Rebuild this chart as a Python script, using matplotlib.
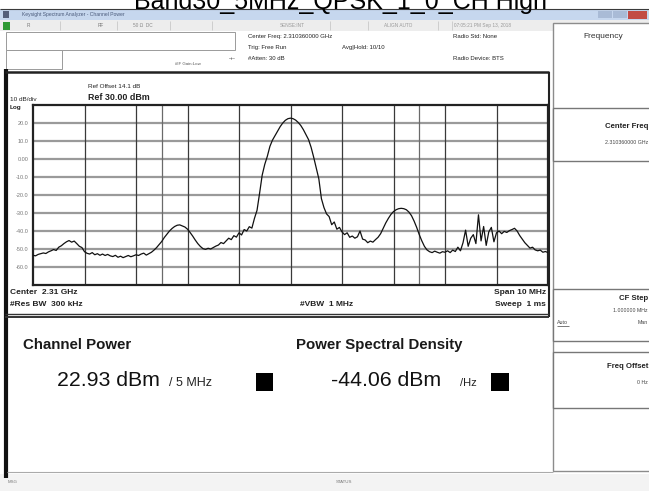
import numpy as np
import matplotlib
matplotlib.use("Agg")
import matplotlib.pyplot as plt
from matplotlib import font_manager
from matplotlib.patches import Rectangle

# ---------------- data ----------------
title = "Band30_5MHz_QPSK_1_0_CH High"
ref_level_dbm = 30.0
bottom_level_dbm = -70.0
freq_start_mhz = -5.0
freq_stop_mhz = 5.0
x_div_mhz = [-4, -3, -2, -1, 0, 1, 2, 3, 4]
channel_edges_mhz = [-2.5, 2.5]
y_tick_values = [20, 10, 0, -10, -20, -30, -40, -50, -60]
y_tick_labels = ["20.0", "10.0", "0.00", "-10.0", "-20.0", "-30.0", "-40.0", "-50.0", "-60.0"]

trace_dbm = [
    -53.5, -53.8, -53.0, -52.6, -52.2, -52.5, -51.6, -51.0, -50.3, -50.8,
    -49.0, -48.2, -47.0, -46.0, -45.3, -46.2, -45.6, -47.0, -48.5, -49.2,
    -51.5, -52.4, -52.8, -52.0, -53.2, -52.6, -53.5, -52.8, -53.6, -53.0,
    -53.8, -54.2, -53.5, -54.6, -54.0, -54.8, -54.2, -53.6, -54.3, -53.8,
    -53.2, -53.6, -52.8, -52.3, -53.4, -52.6, -51.8, -50.6, -49.2, -47.5,
    -45.8, -43.6, -41.8, -40.0, -38.6, -37.5, -36.8, -36.6, -37.2, -37.8,
    -39.0, -40.8, -42.8, -45.0, -47.0, -48.6, -49.8, -50.2, -49.6, -50.0,
    -49.2, -48.4, -47.8, -46.4, -47.0, -45.5, -44.0, -44.8, -42.6, -43.4,
    -41.0, -42.2, -39.2, -40.0, -37.6, -38.4, -33.0, -28.5, -19.0, -9.0,
    -3.0, 1.5, 7.0, 10.5, 13.0, 15.5, 18.0, 20.0, 21.5, 22.4,
    22.7, 22.4, 21.6, 20.3, 18.6, 16.3, 13.6, 10.8, 6.5, 1.0,
    -5.0, -11.0, -22.0, -27.0, -30.5, -32.0, -36.5, -35.0, -39.0, -38.0,
    -40.5, -42.0, -41.0, -43.5, -42.8, -44.0, -43.2, -40.0, -44.5, -45.0,
    -46.5, -45.6, -46.2, -44.8, -43.5, -41.5, -38.5, -35.5, -33.0, -30.8,
    -29.2, -28.2, -27.6, -27.4, -27.6, -28.2, -29.5, -31.5, -34.5, -38.0,
    -42.0, -45.5, -48.5, -50.5, -51.5, -52.0, -51.2, -51.8, -52.3, -51.5,
    -51.8, -51.0, -52.0, -50.6, -51.4, -49.0, -51.0, -46.5, -39.5, -48.5,
    -44.0, -42.0, -47.0, -31.0, -45.5, -37.5, -48.0, -40.5, -38.0, -46.0,
    -41.0, -40.0, -41.5, -40.2, -40.8, -39.8, -39.2, -38.5, -40.0, -42.5,
    -44.5, -46.5, -48.0, -49.5, -49.0, -50.5, -51.0, -50.6, -51.8, -51.4,
    -52.0,
]
freq_mhz = np.linspace(freq_start_mhz, freq_stop_mhz, len(trace_dbm))

channel_power = "22.93 dBm"
channel_power_unit = "/ 5 MHz"
psd_value = "-44.06 dBm"
psd_unit = "/Hz"

# ---------------- fonts ----------------
installed = {f.name for f in font_manager.fontManager.ttflist}
if "Liberation Sans Narrow" in installed:
    UI_FONT = ["Liberation Sans Narrow", "Liberation Sans", "DejaVu Sans"]
    K = 1.2          # narrow glyphs: taller text for the same width
else:
    UI_FONT = ["Liberation Sans", "DejaVu Sans"]
    K = 1.0
plt.rcParams["font.family"] = ["Liberation Sans", "DejaVu Sans"]

# ---------------- figure ----------------
W, H = 649, 491
fig = plt.figure(figsize=(W / 100, H / 100), dpi=100)
fig.patch.set_facecolor("white")

bg = fig.add_axes([0, 0, 1, 1], zorder=0)
bg.set_xlim(0, W)
bg.set_ylim(H, 0)
bg.axis("off")

def rect(x0, y0, x1, y1, fc="none", ec="none", lw=1.0, z=1):
    bg.add_patch(Rectangle((x0, y0), x1 - x0, y1 - y0, facecolor=fc,
                           edgecolor=ec, linewidth=lw, zorder=z))

def line(x0, y0, x1, y1, c="#222222", lw=1.0, z=2):
    bg.plot([x0, x1], [y0, y1], color=c, lw=lw, zorder=z, solid_capstyle="butt")

def txt(x, y, s, size=5, ha="left", va="center", color="#222222", weight="normal", z=3):
    bg.text(x, y, s, fontsize=size * K, ha=ha, va=va, color=color, family=UI_FONT,
            fontweight=weight, zorder=z, clip_on=False)

# title (partially cut off at top, as in the screenshot)
bg.text(341, 8.5, title, fontsize=18, ha="center", va="baseline", color="black",
        family=["Liberation Sans", "DejaVu Sans"], zorder=3, clip_on=False)

# window title bar
rect(0, 9, W, 20, fc="#c6d7ee", z=1)
line(0, 9.3, W, 9.3, c="#3a3a3a", lw=0.8)
rect(3, 11, 9, 18, fc="#55607a", z=2)
txt(22, 14.6, "Keysight Spectrum Analyzer - Channel Power", size=3.6, color="#4a5a7a")
rect(598, 11, 612, 18, fc="#a9bbd6", z=2)
rect(613, 11, 627, 18, fc="#a9bbd6", z=2)
rect(628, 10.5, 647, 18.5, fc="#c24b45", z=2)

# status row
rect(0, 20, W, 30.5, fc="#ededed", z=1)
rect(3, 21.5, 10, 29.5, fc="#2f9a35", z=2)
for xs in [60, 117, 170, 212, 330, 368, 438, 452]:
    line(xs, 21, xs, 30, c="#c8c8c8", lw=0.6)
txt(27, 25.5, "R", size=3.4, color="#777777")
txt(98, 25.5, "RF", size=3.4, color="#777777")
txt(133, 25.5, "50 \u03a9  DC", size=3.4, color="#888888")
txt(280, 25.5, "SENSE:INT", size=3.4, color="#999999")
txt(384, 25.5, "ALIGN AUTO", size=3.4, color="#999999")
txt(454, 25.5, "07:05:21 PM Sep 13, 2018", size=3.4, color="#999999")

# settings area
rect(6, 31.5, 235, 49.5, fc="white", ec="#9a9a9a", lw=0.7, z=2)
rect(6, 50, 62, 69, fc="white", ec="#9a9a9a", lw=0.7, z=2)
txt(175, 63.5, "#IF Gain:Low", size=3.2, color="#555555")
txt(229, 58, "-+-", size=4, color="#333333")
txt(248, 36, "Center Freq: 2.310360000 GHz", size=4.3)
txt(248, 47, "Trig: Free Run", size=4.3)
txt(342, 47, "Avg|Hold: 10/10", size=4.3)
txt(248, 58, "#Atten: 30 dB", size=4.3)
txt(453, 36, "Radio Std: None", size=4.3)
txt(453, 58, "Radio Device: BTS", size=4.3)

# right soft-key panel
rect(553, 23, 652, 471, fc="white", ec="#8c8c8c", lw=1.0, z=1)
txt(603, 36, "Frequency", size=6.0, ha="center", color="#333333")
rect(553, 108, 652, 161, fc="white", ec="#777777", lw=1.0, z=2)
txt(648, 126, "Center Freq", size=5.6, ha="right", weight="bold")
txt(648, 142, "2.310360000 GHz", size=3.8, ha="right", color="#444444")
rect(553, 289, 652, 341, fc="white", ec="#777777", lw=1.0, z=2)
txt(648, 299, "CF Step", size=5.6, ha="right", weight="bold")
txt(648, 311, "1.000000 MHz", size=3.8, ha="right", color="#444444")
txt(557, 322, "Auto", size=3.8, color="#444444")
line(557, 325.5, 569, 325.5, c="#444444", lw=0.5)
txt(648, 322, "Man", size=3.8, ha="right", color="#444444")
rect(553, 352, 652, 408, fc="white", ec="#777777", lw=1.0, z=2)
txt(648, 366, "Freq Offset", size=5.6, ha="right", weight="bold")
txt(648, 383, "0 Hz", size=3.8, ha="right", color="#444444")

# main display frame
line(5.5, 69, 5.5, 478, c="#111111", lw=3.0)
line(5, 72, 549, 72, c="#222222", lw=1.8)
line(548.5, 72, 548.5, 317, c="#222222", lw=1.5)
line(5, 314, 549, 314, c="#333333", lw=1.0)
line(5, 317, 549, 317, c="#333333", lw=1.4)
line(7, 472, 553, 472, c="#aaaaaa", lw=0.8)
rect(0, 474, W, H, fc="#f3f3f3", z=1)
txt(8, 482, "MSG", size=3.2, color="#777777")
txt(336, 482, "STATUS", size=3.2, color="#777777")

# annotations around the trace area
txt(88, 86, "Ref Offset 14.1 dB", size=4.6)
txt(88, 97.5, "Ref 30.00 dBm", size=6.4, weight="bold")
txt(10, 99.5, "10 dB/div", size=4.6)
txt(10, 107.5, "Log", size=4.6, weight="bold")
txt(10, 293, "Center  2.31 GHz", size=6.0, weight="bold")
txt(10, 305, "#Res BW  300 kHz", size=6.0, weight="bold")
txt(300, 305, "#VBW  1 MHz", size=6.0, weight="bold")
txt(546, 293, "Span 10 MHz", size=6.0, ha="right", weight="bold")
txt(546, 305, "Sweep  1 ms", size=6.0, ha="right", weight="bold")

# measurement results
txt(23, 345, "Channel Power", size=10.8, weight="bold", color="#1a1a1a")
txt(296, 345, "Power Spectral Density", size=10.8, weight="bold", color="#1a1a1a")
txt(57, 381, channel_power, size=15.3, color="#111111")
txt(169, 383, channel_power_unit, size=9.0, color="#222222")
rect(256, 373, 273, 391, fc="black", z=2)
txt(331, 381, psd_value, size=15.3, color="#111111")
txt(460, 383, psd_unit, size=8.0, color="#222222")
rect(491, 373, 509, 391, fc="black", z=2)

# ---------------- trace axes ----------------
ax = fig.add_axes([33 / W, 1 - 285 / H, (548 - 33) / W, (285 - 105) / H], zorder=2)
ax.set_facecolor("white")
ax.set_xlim(freq_start_mhz, freq_stop_mhz)
ax.set_ylim(bottom_level_dbm, ref_level_dbm)
for v in y_tick_values:
    ax.axhline(v, color="#9a9a9a", lw=1.6, zorder=1)
for v in x_div_mhz:
    ax.axvline(v, color="#3a3a3a", lw=0.9, zorder=1)
for v in channel_edges_mhz:
    ax.axvline(v, color="#6a6a6a", lw=0.9, zorder=1)
ax.plot(freq_mhz, trace_dbm, color="#111111", lw=0.9, zorder=3)
ax.set_xticks([])
ax.set_yticks(y_tick_values)
ax.set_yticklabels(y_tick_labels, family=UI_FONT)
ax.tick_params(axis="y", length=0, pad=3, labelsize=4.0 * K, labelcolor="#777777")
for sp in ax.spines.values():
    sp.set_linewidth(1.6)
    sp.set_color("#222222")

fig.savefig("out.png", dpi=100)
